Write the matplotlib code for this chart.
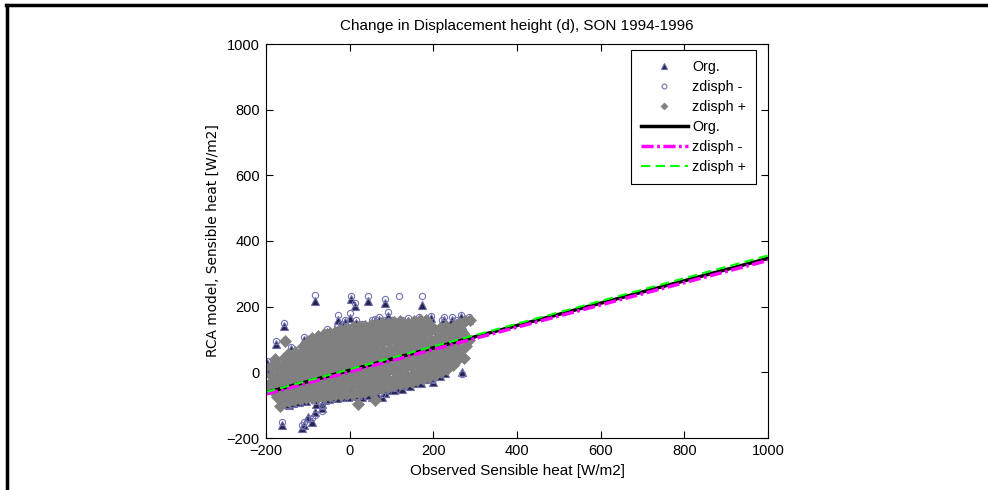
import matplotlib
matplotlib.use('Agg')
import matplotlib.pyplot as plt
from matplotlib.lines import Line2D

# ---------------- data ----------------
# Org. (triangles) observed x and model y
org_x = [-198, -195, -190, -176, -172, -160, -157, -150, -140, -131,
         -126, -118, -98, -83, -62, -54, -42, -28, 1, 3,
         13, 25, 44, 53, 85, 91, 60, 80, -12, 110,
         125, 140, 150, 173, 165, 185, 200, 220, 240, 255,
         266, 264, 270, 285, 250, 268, 228, 228, 240, 200,
         185, 156, 135, 112, 95, 77, 53, 29, 10, -18,
         -42, -60, -65, -66, -83, -90, -99, -114, -108, -162,
         -145, -130, -114, -160, -175, -185, -80, -45, 0, 40,
         70, 120, 160, -100, -70, -30, 30, 100, 150, -120,
         -80, -20, 40, 90, 140, -150, -40, 60, 180, -75,
         118,
         -150, -135, -120, -105, -50, -30, -5, 20, 45, 65,
         85, 105, 125, 145, 170, 195, 215,
         -140, -110, -20, 15, 70, 195, 225, 245]
org_y = [28, 10, -2, 85, 0, 0, 142, 35, -30, 37,
         60, 45, 77, 218, 74, 124, 105, 160, 166, 222,
         203, 110, 218, 150, 210, 172, 155, 152, 152, 130,
         150, 155, 140, 205, 160, 150, 130, 150, 120, 150,
         168, 144, 120, 160, 70, 2, 22, -3, 40, -28,
         -20, -33, -40, -48, -55, -75, -75, -75, -72, -75,
         -76, -85, -97, -110, -122, -150, -135, -170, -160, -160,
         -100, -85, -75, -65, -45, -20, -95, -60, -55, -58,
         -50, -30, -10, 95, 90, 130, 140, 150, 110, 10,
         40, 50, 80, 60, 80, -40, -30, -20, 40, -60,
         150,
         -95, -92, -90, -88, -80, -78, -74, -70, -68, -66,
         -62, -55, -50, -42, -32, -20, -10,
         70, 100, 140, 150, 160, 165, 160, 160]
# zdisph - (open circles), same observations
zminus_y = [34, 18, 4, 95, 8, 6, 150, 44, -24, 46,
            68, 54, 86, 236, 82, 132, 114, 176, 182, 232,
            212, 118, 232, 158, 222, 184, 162, 160, 160, 138,
            158, 164, 148, 233, 168, 158, 138, 158, 128, 158,
            176, 152, 128, 168, 78, -6, 30, 4, 48, -20,
            -12, -26, -32, -40, -47, -66, -66, -66, -64, -66,
            -68, -76, -104, -118, -130, -140, -143, -160, -152, -152,
            -92, -77, -67, -57, -37, -12, -87, -52, -47, -50,
            -42, -22, -2, 103, 98, 138, 148, 158, 118, 18,
            48, 58, 88, 68, 88, -32, -22, -12, 48, -52,
            233,
            -87, -84, -82, -80, -72, -70, -66, -62, -60, -58,
            -54, -47, -42, -34, -24, -12, -2,
            78, 108, 148, 158, 168, 173, 168, 168]

# zdisph + (grey markers)
zplus_x = [-190, -186, -189, -184,
           -174, -171, -176, -169, -173,
           -160, -157, -162, -155, -159, -156,
           -146, -143, -148, -141, -145, -142, -147,
           -132, -129, -134, -127, -131, -128, -133, -130,
           -118, -115, -120, -113, -117, -114, -119, -116, -112,
           -104, -101, -106, -99, -103, -100, -105, -102, -98,
           -90, -87, -92, -85, -89, -86, -91, -88, -84, -90,
           -76, -73, -78, -71, -75, -72, -77, -74, -70, -76,
           -62, -59, -64, -57, -61, -58, -63, -60, -56, -62,
           -48, -45, -50, -43, -47, -44, -49, -46, -42, -48,
           -34, -31, -36, -29, -33, -30, -35, -32, -28, -34,
           -20, -17, -22, -15, -19, -16, -21, -18, -14, -20,
           -6, -3, -8, -1, -5, -2, -7, -4, 0, -6,
           8, 11, 6, 13, 9, 12, 7, 10, 14, 8,
           22, 25, 20, 27, 23, 26, 21, 24, 28, 22,
           36, 39, 34, 41, 37, 40, 35, 38, 42, 36,
           50, 53, 48, 55, 51, 54, 49, 52, 56, 50,
           64, 67, 62, 69, 65, 68, 63, 66, 70, 64,
           78, 81, 76, 83, 79, 82, 77, 80, 84, 78,
           92, 95, 90, 97, 93, 96, 91, 94, 98, 92,
           106, 109, 104, 111, 107, 110, 105, 108, 112, 106,
           120, 123, 118, 125, 121, 124, 119, 122, 126, 120,
           134, 137, 132, 139, 135, 138, 133, 136, 140,
           148, 151, 146, 153, 149, 152, 147, 150, 154,
           162, 165, 160, 167, 163, 166, 161, 164, 168,
           176, 179, 174, 181, 177, 180, 175, 178, 182,
           190, 193, 188, 195, 191, 194, 189, 192,
           204, 207, 202, 209, 205, 208, 203,
           218, 221, 216, 223, 219, 222, 217,
           232, 235, 230, 237, 233, 236, 231,
           246, 249, 244, 251, 247, 250,
           260, 263, 258, 265, 261,
           274, 277, 272, 275,
           288, 286, -155, -178, -166, -136, -196, 20, 60]
zplus_y = [-40, -12, 15, -58,
           -75, -46, -20, 6, 26,
           -90, -64, -36, -10, 16, 44,
           -88, -62, -40, -16, 10, 31, 55,
           -85, -64, -45, -24, 0, 21, 41, 62,
           -82, -60, -40, -19, 1, 21, 40, 60, 80,
           -78, -56, -35, -14, 5, 25, 46, 70, 94,
           -78, -57, -37, -17, 3, 23, 43, 65, 87, 104,
           -76, -55, -34, -14, 6, 26, 46, 68, 90, 112,
           -75, -52, -30, -9, 11, 31, 52, 75, 97, 117,
           -72, -50, -28, -7, 13, 33, 55, 78, 100, 121,
           -70, -48, -26, -5, 16, 36, 58, 80, 102, 124,
           -68, -45, -22, -1, 19, 40, 62, 85, 108, 129,
           -66, -42, -20, 3, 23, 44, 66, 90, 112, 134,
           -65, -40, -18, 5, 26, 48, 70, 95, 118, 139,
           -62, -38, -15, 8, 30, 52, 75, 98, 120, 140,
           -60, -36, -12, 11, 32, 55, 78, 100, 122, 142,
           -56, -32, -10, 14, 36, 58, 80, 104, 126, 145,
           -52, -28, -5, 18, 40, 62, 85, 108, 130, 148,
           -48, -25, -2, 22, 44, 66, 90, 112, 134, 150,
           -45, -22, 2, 25, 48, 70, 94, 116, 138, 151,
           -40, -18, 6, 30, 52, 75, 98, 120, 140, 152,
           -36, -14, 10, 34, 56, 80, 102, 124, 145, 156,
           -32, -10, 14, 38, 60, 84, 106, 128, 150,
           -28, -5, 18, 42, 65, 88, 110, 132, 155,
           -24, -2, 22, 46, 70, 92, 115, 136, 158,
           -20, 2, 26, 50, 74, 96, 120, 140, 160,
           -15, 8, 30, 55, 78, 100, 122, 145,
           -8, 15, 38, 60, 82, 105, 128,
           0, 22, 45, 68, 90, 112, 135,
           10, 32, 55, 78, 100, 122, 142,
           22, 45, 68, 90, 115, 140,
           40, 65, 95, 125, 150,
           45, 80, 120, 155,
           159, 100, 96, 40, -103, -70, -38, -95, -85]

# fitted lines (end points)
line_x = [-200, 1000]
org_line_y = [-62, 347]
zminus_line_y = [-66, 341]
zplus_line_y = [-60, 356]

title = 'Change in Displacement height (d), SON 1994-1996'
xlabel = 'Observed Sensible heat [W/m2]'
ylabel = 'RCA model, Sensible heat [W/m2]'
ticks = [-200, 0, 200, 400, 600, 800, 1000]

# ---------------- plot ----------------
plt.rcParams['font.family'] = ['Liberation Sans', 'DejaVu Sans']
W, H = 988, 490
fig = plt.figure(figsize=(W / 100, H / 100), dpi=100)
ax = fig.add_axes([266 / W, 1 - 438 / H, (768 - 266) / W, (438 - 44) / H])

ax.plot(org_x, org_y, ls='none', marker='^', ms=5.5, mfc='#24244a',
        mec='#6c6cac', mew=0.8, label='Org.')
ax.plot(org_x, zminus_y, ls='none', marker='o', ms=4.5, mfc='none',
        mec='#7474b4', mew=0.8, label='zdisph -')
ax.plot(zplus_x, zplus_y, ls='none', marker='D', ms=6.2, mfc='#808080',
        mec='#808080', mew=0.5, label='zdisph +')
ax.plot(line_x, org_line_y, '-', color='black', lw=2.5, label='Org.')
ax.plot(line_x, zminus_line_y, color='#ff00ff', lw=2.5, label='zdisph -',
        dashes=(3.5, 1.0, 0.8, 1.0))
ax.plot(line_x, zplus_line_y, color='#00ff00', lw=1.5, label='zdisph +',
        dashes=(4.5, 2.5))

ax.set_xlim(-200, 1000)
ax.set_ylim(-200, 1000)
ax.set_xticks(ticks)
ax.set_yticks(ticks)
ax.tick_params(direction='in', top=True, right=True, length=5, width=0.8,
               labelsize=10.5, pad=4.5)
for s in ax.spines.values():
    s.set_linewidth(0.8)

ax.set_title(title, fontsize=11, pad=10)
ax.set_xlabel(xlabel, fontsize=11, labelpad=4.5)
ax.set_ylabel(ylabel, fontsize=9.9, family='DejaVu Sans', labelpad=5)

leg = ax.legend(loc='upper right', bbox_to_anchor=(756 / W, 1 - 50 / H),
                bbox_transform=fig.transFigure, borderaxespad=0,
                fancybox=False, framealpha=1, edgecolor='black',
                fontsize=10.3, handlelength=3.3, labelspacing=0.42,
                handletextpad=0.28, borderpad=0.7)
leg.get_frame().set_linewidth(0.8)
for h, ms in zip(leg.legend_handles[:3], [4.5, 3.5, 3.5]):
    h.set_markersize(ms)

# outer frame (top and left edges)
fig.add_artist(Line2D([6 / W, 1], [1 - 5 / H, 1 - 5 / H], color='black',
                      lw=2.5, transform=fig.transFigure))
fig.add_artist(Line2D([6.5 / W, 6.5 / W], [0, 1 - 5 / H], color='black',
                      lw=2.5, transform=fig.transFigure))

fig.savefig('out.png', dpi=100)
